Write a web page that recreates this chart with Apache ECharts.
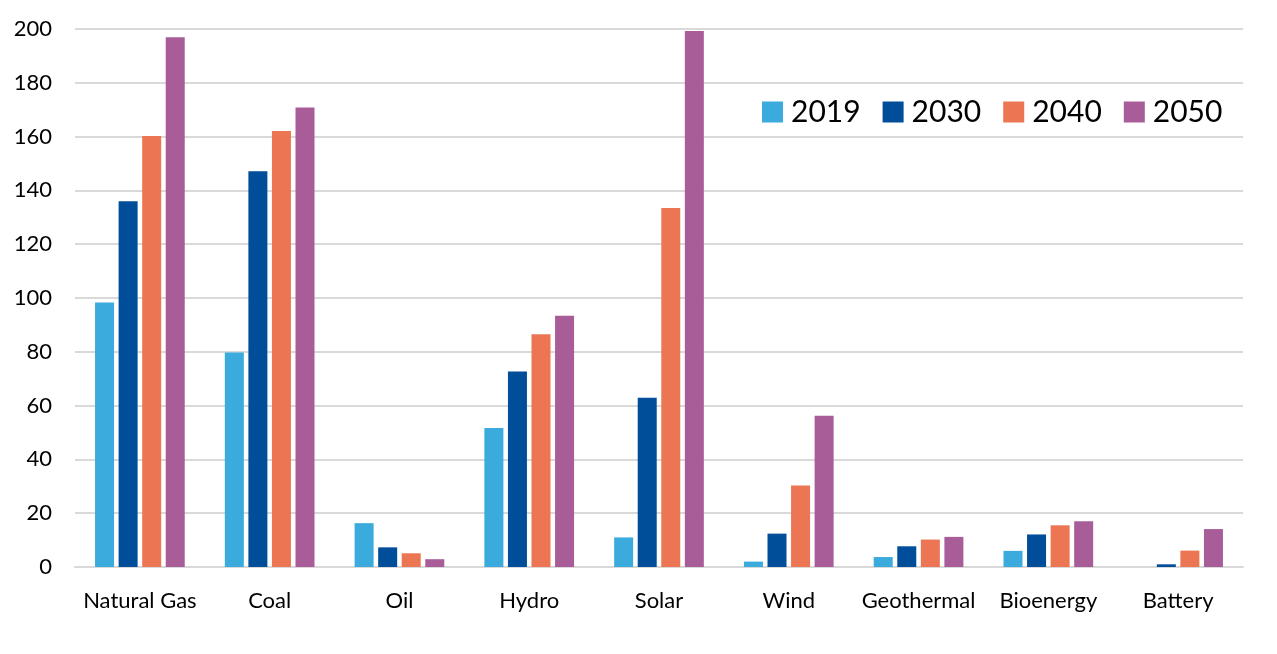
<!DOCTYPE html>
<html>
<head>
<meta charset="utf-8">
<script src="https://cdn.jsdelivr.net/npm/echarts@6/dist/echarts.min.js"></script>
<style>
html,body{margin:0;padding:0;background:#fff;}
#chart{width:1277px;height:654px;}
</style>
</head>
<body>
<div id="chart"></div>
<script>
const categories = ['Natural Gas','Coal','Oil','Hydro','Solar','Wind','Geothermal','Bioenergy','Battery'];
const seriesNames = ['2019','2030','2040','2050'];
const v2019 = [98.3, 79.7, 16.3, 51.7, 11.0, 2.0, 3.7, 6.0, 0];
const v2030 = [136.0, 147.1, 7.3, 72.7, 62.9, 12.4, 7.7, 12.1, 1.0];
const v2040 = [160.2, 162.1, 5.1, 86.5, 133.5, 30.3, 10.2, 15.5, 6.1];
const v2050 = [196.9, 170.8, 2.9, 93.4, 199.3, 56.2, 11.2, 17.0, 14.1];
const yTicks = [0, 20, 40, 60, 80, 100, 120, 140, 160, 180, 200];
const colors = ['#3AABDC', '#004D99', '#EC7653', '#A85C98'];

const values = [v2019, v2030, v2040, v2050];
const chart = echarts.init(document.getElementById('chart'), null, {renderer: 'canvas'});
const font = 'Lato, "Open Sans", sans-serif';
chart.setOption({
  animation: false,
  color: colors,
  grid: {left: 75, right: 34, top: 29, bottom: 87, containLabel: false},
  legend: {
    data: seriesNames,
    left: 757, top: 92,
    itemWidth: 21, itemHeight: 21, itemGap: 22,
    icon: 'rect',
    textStyle: {fontSize: 30, color: '#000', fontFamily: font, padding: [0, 0, 0, 3]}
  },
  xAxis: {
    type: 'category',
    data: categories,
    axisLine: {lineStyle: {color: '#d9d9d9', width: 2}},
    axisTick: {show: false},
    axisLabel: {fontSize: 22, color: '#000', fontFamily: font, margin: 23, interval: 0}
  },
  yAxis: {
    type: 'value',
    min: yTicks[0], max: yTicks[yTicks.length - 1], interval: 20,
    axisLine: {show: false},
    axisTick: {show: false},
    splitLine: {lineStyle: {color: '#d9d9d9', width: 2}},
    axisLabel: {fontSize: 22, color: '#000', fontFamily: font, margin: 23}
  },
  series: seriesNames.map((n, i) => ({
    name: n,
    type: 'bar',
    data: values[i],
    barWidth: 19,
    barGap: '24%',
    itemStyle: {color: colors[i]}
  }))
});
</script>
</body>
</html>
